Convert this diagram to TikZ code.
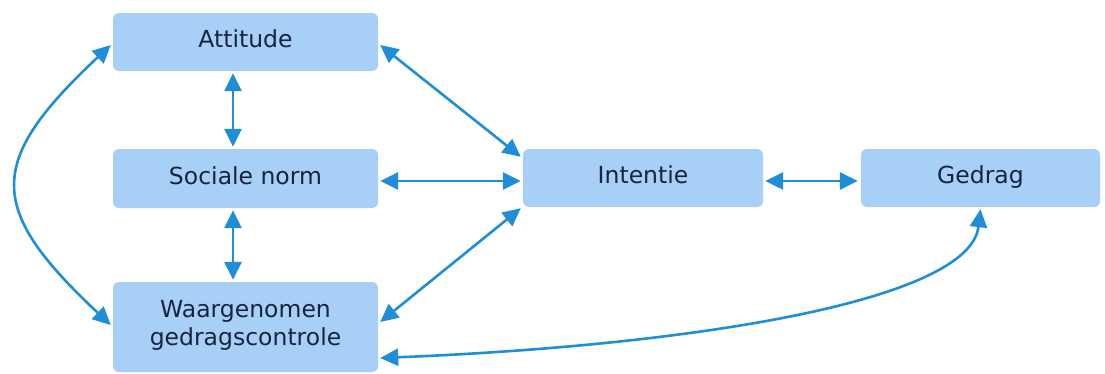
\documentclass[tikz,border=0pt]{standalone}
\usepackage{fontspec}
\setmainfont{DejaVu Sans}
\usetikzlibrary{arrows.meta,calc}
\definecolor{boxfill}{HTML}{A8D0F6}
\definecolor{linkblue}{HTML}{1E8ED8}
\definecolor{labelink}{HTML}{172440}
\begin{document}
\begin{tikzpicture}[x=1pt,y=-1pt,
  concept/.style={fill=boxfill, rounded corners=6pt, inner sep=0pt,
    text=labelink, font=\fontsize{23.5}{28}\selectfont, align=center,
    execute at begin node=\strut},
  tip/.tip={Triangle[length=18pt,width=17pt]},
  link/.style={draw=linkblue, line width=2.6pt, tip-tip}]
  \fill[white] (0,0) rectangle (1105,373);
  \useasboundingbox (0,0) rectangle (1105,373);

  % boxes
  \node[concept, minimum width=265pt, minimum height=58pt] (att) at (245.5,42) {Attitude};
  \node[concept, minimum width=265pt, minimum height=59pt] (soc) at (245.5,178.5) {Sociale norm};
  \node[concept, minimum width=265pt, minimum height=90pt] (waar) at (245.5,327) {Waargenomen\\gedragscontrole};
  \node[concept, minimum width=240pt, minimum height=58pt] (int) at (643,178) {Intentie};
  \node[concept, minimum width=239pt, minimum height=58pt] (ged) at (980.5,178) {Gedrag};

  % connectors
  \draw[link] ($(att.south)+(-12.5,2)$) -- ($(soc.north)+(-12.5,-2)$);
  \draw[link] ($(soc.south)+(-12.5,2)$) -- ($(waar.north)+(-12.5,-2)$);
  \draw[link] ($(soc.east)+(2,2.5)$) -- ($(int.west)+(-2,3)$);
  \draw[link] ($(att.east)+(2,3)$) -- ($(int.north west)+(-2,8)$);
  \draw[link] ($(waar.east)+(2,-5)$) -- ($(int.south west)+(-2,1)$);
  \draw[link] ($(int.east)+(2,3)$) -- ($(ged.west)+(-3,3)$);
  \draw[link] ($(att.west)+(-2,3)$) .. controls (-14,162) and (-14,208) .. ($(waar.west)+(-2,-2)$);
  \draw[link] ($(waar.east)+(2,31)$) .. controls (700,345) and (970,300) .. ($(ged.south)+(0,2)$);
\end{tikzpicture}
\end{document}
